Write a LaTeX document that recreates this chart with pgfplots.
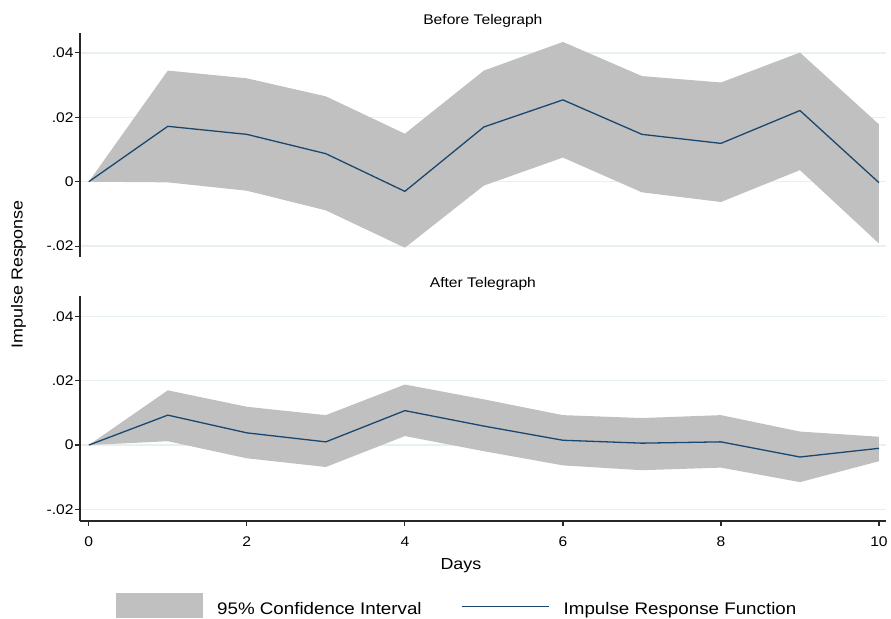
\documentclass[border=0pt]{standalone}
\usepackage{fontspec}
\setmainfont{Liberation Sans}[FakeStretch=1.12]
\usepackage{pgfplots}
\pgfplotsset{compat=1.18}
\usepackage{pgfplotstable}
\usepgfplotslibrary{fillbetween}

\definecolor{cifill}{RGB}{192,192,192}
\definecolor{irfline}{RGB}{26,71,111}
\definecolor{gridc}{RGB}{232,240,241}
\definecolor{axisc}{RGB}{40,40,40}

% Impulse responses with 95% bands, before the telegraph
\pgfplotstableread{
day irf lo hi
0   0.0000  0.0000 0.0000
1   0.0172 -0.0002 0.0345
2   0.0147 -0.0028 0.0321
3   0.0087 -0.0089 0.0265
4  -0.0030 -0.0205 0.0149
5   0.0170 -0.0012 0.0345
6   0.0254  0.0075 0.0434
7   0.0147 -0.0033 0.0328
8   0.0119 -0.0063 0.0308
9   0.0221  0.0036 0.0401
10 -0.0003 -0.0192 0.0178
}\before

% Impulse responses with 95% bands, after the telegraph
\pgfplotstableread{
day irf lo hi
0   0.0000  0.0000 0.0000
1   0.0093  0.0012 0.0170
2   0.0038 -0.0041 0.0119
3   0.0010 -0.0068 0.0093
4   0.0107  0.0028 0.0188
5   0.0059 -0.0019 0.0142
6   0.0015 -0.0063 0.0093
7   0.0006 -0.0078 0.0084
8   0.0010 -0.0070 0.0093
9  -0.0037 -0.0115 0.0042
10 -0.0010 -0.0050 0.0026
}\after

\pgfplotsset{
  irfpanel/.style={
    scale only axis, width=808pt, height=225pt,
    xmin=-0.1136, xmax=10.088, ymin=-0.0235, ymax=0.0462,
    axis y line*=left,
    scaled y ticks=false,
    ytick={-0.02,0,0.02,0.04}, yticklabels={-.02,0,.02,.04},
    ymajorgrids, grid style={gridc, line width=1.4pt},
    ytick pos=left,
    tick align=outside, major tick length=5pt,
    tick style={axisc, line width=1.2pt},
    axis line style={axisc, line width=1.6pt, -},
    tick label style={font=\fontsize{14}{16}\selectfont},
    yticklabel style={inner sep=1pt},
    /pgf/number format/assume math mode=true,
    title style={font=\fontsize{14}{16}\selectfont, at={(0.5,1)}, anchor=base, yshift=2.5pt},
  },
}

\begin{document}
\begin{tikzpicture}

% upper panel
\begin{axis}[irfpanel, at={(80pt,362pt)}, anchor=south west,
  axis x line*=bottom, x axis line style={draw=none}, xtick=\empty,
  title={Before Telegraph}]
  \addplot[name path=hiA, draw=none, forget plot] table[x=day, y=hi] {\before};
  \addplot[name path=loA, draw=none, forget plot] table[x=day, y=lo] {\before};
  \addplot[cifill, draw=none, forget plot] fill between[of=hiA and loA];
  \addplot[irfline, line width=1.3pt, mark=none, forget plot] table[x=day, y=irf] {\before};
\end{axis}

% lower panel with the shared x axis and legend
\begin{axis}[irfpanel, at={(80pt,98pt)}, anchor=south west,
  axis x line*=bottom, xtick pos=bottom,
  xtick={0,2,4,6,8,10},
  xticklabel style={anchor=base, yshift=-21pt},
  title={After Telegraph},
  legend columns=-1,
  legend style={at={(0.0454,-0.3778)}, anchor=west, draw=none, fill=none,
    inner sep=0pt, outer sep=0pt, nodes={inner sep=0pt},
    font=\fontsize{16.8}{19}\selectfont,
    /tikz/every odd column/.append style={column sep=14pt},
    /tikz/every even column/.append style={column sep=40pt}},
  ]
  \addplot[name path=hiB, draw=none, forget plot] table[x=day, y=hi] {\after};
  \addplot[name path=loB, draw=none, forget plot] table[x=day, y=lo] {\after};
  \addplot[cifill, draw=none,
    legend image code/.code={\fill[cifill] (0pt,-8.8pt) rectangle (87pt,15.6pt);}]
    fill between[of=hiB and loB];
  \addlegendentry{95\% Confidence Interval}
  \addplot[irfline, line width=1.3pt, mark=none,
    legend image code/.code={\draw[irfline, line width=1.3pt] (0pt,2.2pt) -- (87pt,2.2pt);}]
    table[x=day, y=irf] {\after};
  \addlegendentry{Impulse Response Function}
\end{axis}

\node[rotate=90, font=\fontsize{16}{18}\selectfont] at (18.5pt,345pt) {Impulse Response};
\node[font=\fontsize{16}{18}\selectfont, anchor=base] at (462pt,49pt) {Days};
% page frame
\path (0,0) rectangle (891pt,620pt);
\end{tikzpicture}
\end{document}
